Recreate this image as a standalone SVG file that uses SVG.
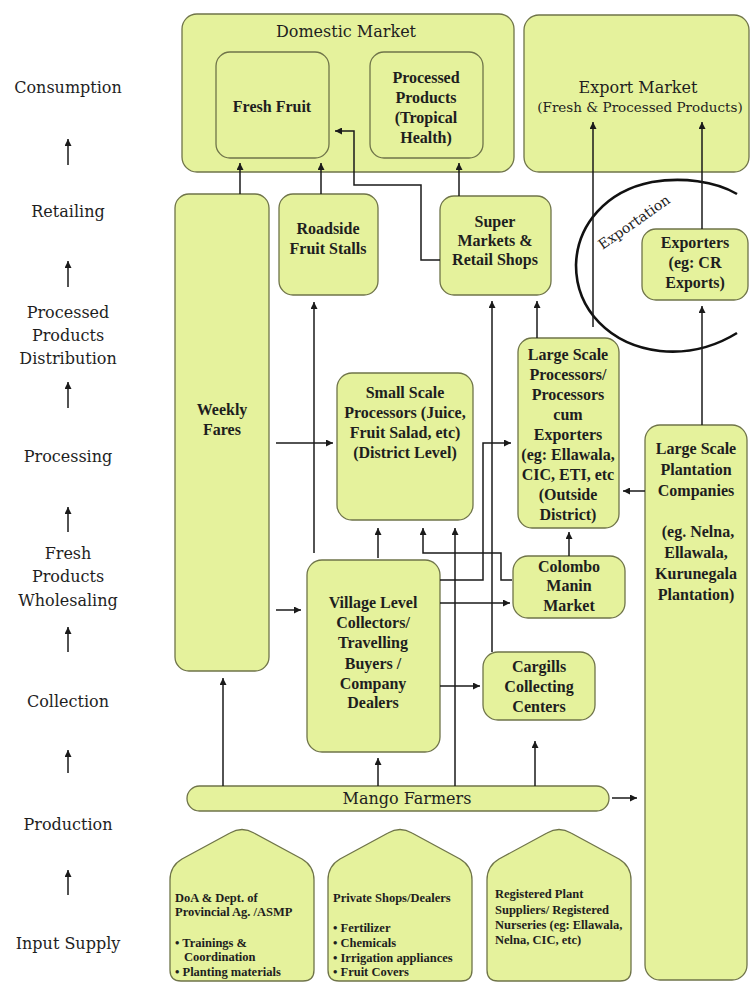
<svg xmlns="http://www.w3.org/2000/svg" width="751" height="983" viewBox="0 0 751 983">
<defs>
<style>
.box{fill:#e5f29c;stroke:#6f7449;stroke-width:1.3}
.b{font-family:"Liberation Serif",serif;font-weight:bold;font-size:16px;fill:#1e1e1e;text-anchor:middle}
.r{font-family:"DejaVu Serif",serif;font-size:16px;fill:#1e1e1e;text-anchor:middle}
.s{font-family:"Liberation Serif",serif;font-weight:bold;font-size:12.5px;fill:#1e1e1e}
.c{fill:none;stroke:#1a1a1a;stroke-width:1.5;marker-end:url(#ah)}
.arc{fill:none;stroke:#111;stroke-width:2.6}
</style>
<marker id="ah" markerUnits="userSpaceOnUse" markerWidth="8" markerHeight="7" refX="7" refY="3.5" orient="auto">
<path d="M0,0 L7,3.5 L0,7 z" fill="#1a1a1a"/>
</marker>
</defs>
<rect width="751" height="983" fill="#ffffff"/>

<!-- stage labels down the left margin -->
<g id="stages">
<text class="r" x="68" y="93">Consumption</text>
<text class="r" x="68" y="217">Retailing</text>
<text class="r" x="68" y="318">Processed</text>
<text class="r" x="68" y="341">Products</text>
<text class="r" x="68" y="364">Distribution</text>
<text class="r" x="68" y="462">Processing</text>
<text class="r" x="68" y="559">Fresh</text>
<text class="r" x="68" y="582">Products</text>
<text class="r" x="68" y="606">Wholesaling</text>
<text class="r" x="68" y="707">Collection</text>
<text class="r" x="68" y="830">Production</text>
<text class="r" x="68" y="949">Input Supply</text>
<path class="c" d="M68,165 V139"/>
<path class="c" d="M68,287 V261"/>
<path class="c" d="M68,408 V382"/>
<path class="c" d="M68,532 V507"/>
<path class="c" d="M68,652 V627"/>
<path class="c" d="M68,773 V750"/>
<path class="c" d="M68,895 V870"/>
</g>

<g id="domestic-market">
<rect class="box" x="182" y="14" width="332" height="158" rx="15"/>
<text class="r" x="346" y="37">Domestic Market</text>
</g>
<g id="fresh-fruit">
<rect class="box" x="216" y="52" width="113" height="106" rx="14"/>
<text class="b" x="272" y="112">Fresh Fruit</text>
</g>
<g id="processed-products">
<rect class="box" x="370" y="52" width="113" height="106" rx="14"/>
<text class="b" x="426" y="83">Processed</text>
<text class="b" x="426" y="103">Products</text>
<text class="b" x="426" y="123">(Tropical</text>
<text class="b" x="426" y="143">Health)</text>
</g>
<g id="export-market">
<rect class="box" x="524" y="15" width="225" height="157" rx="15"/>
<text class="r" x="638" y="93">Export Market</text>
<text class="r" x="640" y="112" style="font-size:13.5px">(Fresh &amp; Processed Products)</text>
</g>
<g id="weekly-fares">
<rect class="box" x="175" y="194" width="94" height="477" rx="14"/>
<text class="b" x="222" y="415">Weekly</text>
<text class="b" x="222" y="435">Fares</text>
</g>
<g id="roadside-stalls">
<rect class="box" x="279" y="194" width="99" height="101" rx="14"/>
<text class="b" x="328" y="234">Roadside</text>
<text class="b" x="328" y="254">Fruit Stalls</text>
</g>
<g id="super-markets">
<rect class="box" x="440" y="196" width="111" height="99" rx="14"/>
<text class="b" x="495" y="227">Super</text>
<text class="b" x="495" y="246">Markets &amp;</text>
<text class="b" x="495" y="265">Retail Shops</text>
</g>
<g id="exporters">
<rect class="box" x="642" y="229" width="106" height="71" rx="14"/>
<text class="b" x="695" y="248">Exporters</text>
<text class="b" x="695" y="268">(eg: CR</text>
<text class="b" x="695" y="288">Exports)</text>
</g>
<g id="small-processors">
<rect class="box" x="337" y="373" width="136" height="147" rx="15"/>
<text class="b" x="405" y="398">Small Scale</text>
<text class="b" x="405" y="418">Processors (Juice,</text>
<text class="b" x="405" y="438">Fruit Salad, etc)</text>
<text class="b" x="405" y="458">(District Level)</text>
</g>
<g id="large-processors">
<rect class="box" x="518" y="338" width="101" height="190" rx="14"/>
<text class="b" x="568" y="360">Large Scale</text>
<text class="b" x="568" y="380">Processors/</text>
<text class="b" x="568" y="400">Processors</text>
<text class="b" x="568" y="420">cum</text>
<text class="b" x="568" y="440">Exporters</text>
<text class="b" x="568" y="460">(eg: Ellawala,</text>
<text class="b" x="568" y="480">CIC, ETI, etc</text>
<text class="b" x="568" y="500">(Outside</text>
<text class="b" x="568" y="520">District)</text>
</g>
<g id="plantation-companies">
<rect class="box" x="645" y="425" width="102" height="555" rx="15"/>
<text class="b" x="696" y="454">Large Scale</text>
<text class="b" x="696" y="475">Plantation</text>
<text class="b" x="696" y="496">Companies</text>
<text class="b" x="698" y="537">(eg. Nelna,</text>
<text class="b" x="696" y="558">Ellawala,</text>
<text class="b" x="696" y="579">Kurunegala</text>
<text class="b" x="696" y="600">Plantation)</text>
</g>
<g id="colombo-market">
<rect class="box" x="513" y="556" width="112" height="62" rx="15"/>
<text class="b" x="569" y="572">Colombo</text>
<text class="b" x="569" y="591">Manin</text>
<text class="b" x="569" y="611">Market</text>
</g>
<g id="village-collectors">
<rect class="box" x="307" y="560" width="133" height="192" rx="15"/>
<text class="b" x="373" y="608">Village Level</text>
<text class="b" x="373" y="628">Collectors/</text>
<text class="b" x="373" y="648">Travelling</text>
<text class="b" x="373" y="669">Buyers /</text>
<text class="b" x="373" y="689">Company</text>
<text class="b" x="373" y="708">Dealers</text>
</g>
<g id="cargills">
<rect class="box" x="483" y="652" width="112" height="68" rx="15"/>
<text class="b" x="539" y="672">Cargills</text>
<text class="b" x="539" y="692">Collecting</text>
<text class="b" x="539" y="712">Centers</text>
</g>
<g id="mango-farmers">
<rect class="box" x="187" y="786" width="422" height="25" rx="12.5"/>
<text class="r" x="407" y="804">Mango Farmers</text>
</g>

<!-- input suppliers: house-shaped panels along the bottom -->
<g id="doa">
<path class="box" d="M170,970 V880 Q170,866 182,859 L230,833 Q242,826 254,833 L302,859 Q314,866 314,880 V970 Q314,981 303,981 H181 Q170,981 170,970 Z"/>
<text class="s" x="175" y="902">DoA &amp; Dept. of</text>
<text class="s" x="175" y="916">Provincial Ag. /ASMP</text>
<text class="s" x="175" y="947">• Trainings &amp;</text>
<text class="s" x="184" y="961">Coordination</text>
<text class="s" x="175" y="976">• Planting materials</text>
</g>
<g id="private-shops">
<path class="box" d="M328,970 V880 Q328,866 340,859 L388,833 Q400,826 412,833 L460,859 Q472,866 472,880 V970 Q472,981 461,981 H339 Q328,981 328,970 Z"/>
<text class="s" x="333" y="902">Private Shops/Dealers</text>
<text class="s" x="333" y="932">• Fertilizer</text>
<text class="s" x="333" y="947">• Chemicals</text>
<text class="s" x="333" y="962">• Irrigation appliances</text>
<text class="s" x="333" y="976">• Fruit Covers</text>
</g>
<g id="plant-suppliers">
<path class="box" d="M487,970 V880 Q487,866 499,859 L547,833 Q559,826 571,833 L619,859 Q631,866 631,880 V970 Q631,981 620,981 H498 Q487,981 487,970 Z"/>
<text class="s" x="495" y="898">Registered Plant</text>
<text class="s" x="495" y="914">Suppliers/ Registered</text>
<text class="s" x="495" y="929">Nurseries (eg: Ellawala,</text>
<text class="s" x="495" y="944">Nelna, CIC, etc)</text>
</g>

<g id="exportation">
<path class="arc" d="M737,194 C715,181 682,177 652,182 C606,191 577,225 576,265 C576,310 610,345 660,351 C690,354 716,346 737,333"/>
<text class="r" x="634" y="227" style="font-size:14px" transform="rotate(-35 634 222)">Exportation</text>
</g>

<g id="connectors">
<path class="c" d="M240,194 V163"/>
<path class="c" d="M321,194 V163"/>
<path class="c" d="M459,196 V163"/>
<path class="c" d="M440,260 H421 V185 H354 V131 H335"/>
<path class="c" d="M276,443 H333"/>
<path class="c" d="M314,553 V302"/>
<path class="c" d="M492,652 V301"/>
<path class="c" d="M537,338 V301"/>
<path class="c" d="M593,327 V122"/>
<path class="c" d="M702,229 V122"/>
<path class="c" d="M702,425 V306"/>
<path class="c" d="M645,491 H623"/>
<path class="c" d="M569,556 V532"/>
<path class="c" d="M378,558 V528"/>
<path class="c" d="M512,580 H501 V553 H423 V528"/>
<path class="c" d="M455,786 V528"/>
<path class="c" d="M440,580 H483 V443 H511"/>
<path class="c" d="M440,603 H510"/>
<path class="c" d="M440,686 H480"/>
<path class="c" d="M378,786 V758"/>
<path class="c" d="M535,786 V741"/>
<path class="c" d="M223,786 V678"/>
<path class="c" d="M276,610 H301"/>
<path class="c" d="M612,798 H637"/>
</g>
</svg>
